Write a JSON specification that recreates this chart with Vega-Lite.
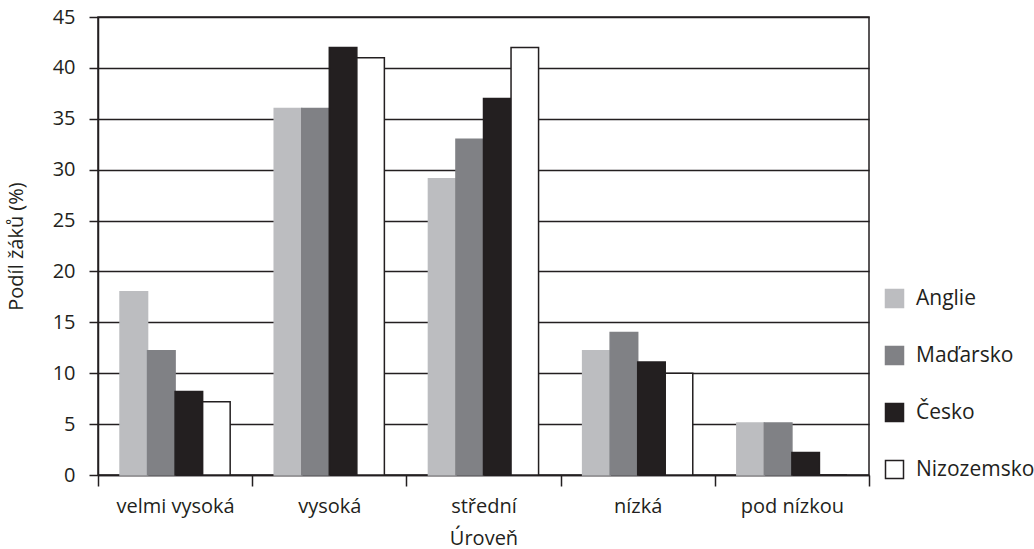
{
  "$schema": "https://vega.github.io/schema/vega-lite/v6.json",
  "autosize": {"type": "none"},
  "padding": {"left": 98, "top": 17, "right": 165, "bottom": 74},
  "width": 771,
  "height": 458,
  "background": "white",
  "config": {
    "font": "Open Sans",
    "view": {"stroke": "#231f20", "strokeWidth": 1.5},
    "axis": {
      "labelFont": "Open Sans",
      "titleFont": "Open Sans",
      "labelColor": "#231f20",
      "titleColor": "#231f20",
      "labelFontSize": 20,
      "titleFontSize": 20,
      "titleFontWeight": "normal",
      "domainColor": "#231f20",
      "tickColor": "#231f20",
      "domainWidth": 1.5,
      "tickWidth": 1.5
    },
    "legend": {
      "labelFont": "Open Sans",
      "labelFontSize": 21,
      "labelColor": "#231f20"
    }
  },
  "data": {
    "values": [
      {"uroven": "velmi vysoká", "zeme": "Anglie", "podil": 18},
      {"uroven": "velmi vysoká", "zeme": "Maďarsko", "podil": 12.2},
      {"uroven": "velmi vysoká", "zeme": "Česko", "podil": 8.2},
      {"uroven": "velmi vysoká", "zeme": "Nizozemsko", "podil": 7.2},
      {"uroven": "vysoká", "zeme": "Anglie", "podil": 36},
      {"uroven": "vysoká", "zeme": "Maďarsko", "podil": 36},
      {"uroven": "vysoká", "zeme": "Česko", "podil": 42},
      {"uroven": "vysoká", "zeme": "Nizozemsko", "podil": 41},
      {"uroven": "střední", "zeme": "Anglie", "podil": 29.1},
      {"uroven": "střední", "zeme": "Maďarsko", "podil": 33},
      {"uroven": "střední", "zeme": "Česko", "podil": 37},
      {"uroven": "střední", "zeme": "Nizozemsko", "podil": 42},
      {"uroven": "nízká", "zeme": "Anglie", "podil": 12.2},
      {"uroven": "nízká", "zeme": "Maďarsko", "podil": 14},
      {"uroven": "nízká", "zeme": "Česko", "podil": 11.1},
      {"uroven": "nízká", "zeme": "Nizozemsko", "podil": 10},
      {"uroven": "pod nízkou", "zeme": "Anglie", "podil": 5.1},
      {"uroven": "pod nízkou", "zeme": "Maďarsko", "podil": 5.1},
      {"uroven": "pod nízkou", "zeme": "Česko", "podil": 2.2},
      {"uroven": "pod nízkou", "zeme": "Nizozemsko", "podil": 0}
    ]
  },
  "mark": {"type": "bar", "strokeWidth": 1.5},
  "encoding": {
    "x": {
      "field": "uroven",
      "type": "nominal",
      "sort": ["velmi vysoká", "vysoká", "střední", "nízká", "pod nízkou"],
      "scale": {"paddingInner": 0, "paddingOuter": 0},
      "axis": {
        "title": "Úroveň",
        "labelAngle": 0,
        "tickBand": "extent",
        "tickSize": 11,
        "labelPadding": 10,
        "titlePadding": 12,
        "grid": false
      }
    },
    "xOffset": {
      "field": "zeme",
      "type": "nominal",
      "sort": ["Anglie", "Maďarsko", "Česko", "Nizozemsko"],
      "scale": {"paddingInner": 0, "paddingOuter": 0.8}
    },
    "y": {
      "field": "podil",
      "type": "quantitative",
      "scale": {"domain": [0, 45], "nice": false},
      "axis": {
        "title": "Podíl žáků (%)",
        "values": [0, 5, 10, 15, 20, 25, 30, 35, 40, 45],
        "grid": true,
        "gridColor": "#231f20",
        "gridWidth": 1.5,
        "gridOpacity": 1,
        "tickSize": 9,
        "labelPadding": 14,
        "titlePadding": 26
      }
    },
    "fill": {
      "field": "zeme",
      "type": "nominal",
      "sort": ["Anglie", "Maďarsko", "Česko", "Nizozemsko"],
      "scale": {
        "domain": ["Anglie", "Maďarsko", "Česko", "Nizozemsko"],
        "range": ["#bcbdc0", "#808185", "#231f20", "#ffffff"]
      },
      "legend": {
        "title": null,
        "orient": "none",
        "legendX": 786,
        "legendY": 271,
        "symbolType": "square",
        "symbolSize": 324,
        "symbolStrokeWidth": 1.5,
        "rowPadding": 32,
        "labelOffset": 11
      }
    },
    "stroke": {
      "field": "zeme",
      "type": "nominal",
      "sort": ["Anglie", "Maďarsko", "Česko", "Nizozemsko"],
      "scale": {
        "domain": ["Anglie", "Maďarsko", "Česko", "Nizozemsko"],
        "range": ["#bcbdc0", "#808185", "#231f20", "#231f20"]
      },
      "legend": {
        "title": null,
        "orient": "none",
        "legendX": 786,
        "legendY": 271,
        "symbolType": "square",
        "symbolSize": 324,
        "symbolStrokeWidth": 1.5,
        "rowPadding": 32,
        "labelOffset": 11
      }
    }
  }
}
